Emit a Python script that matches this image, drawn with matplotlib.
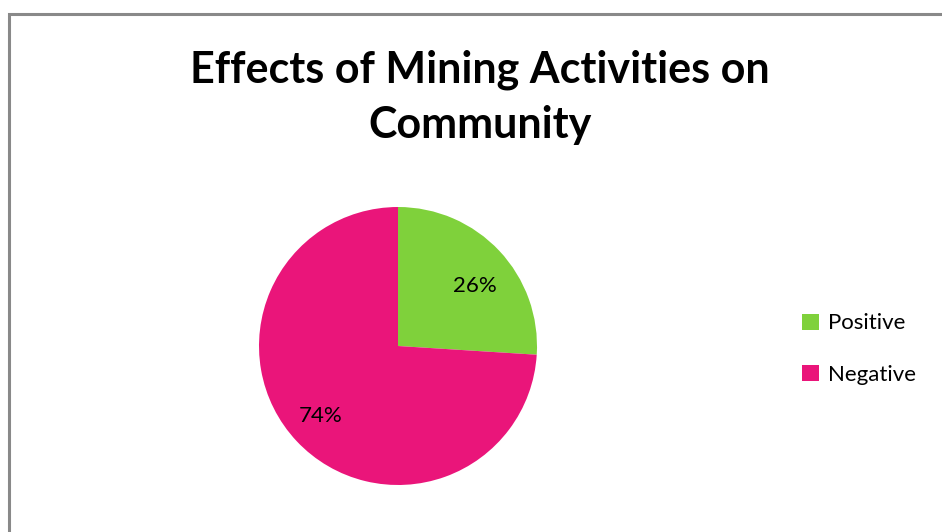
import matplotlib
matplotlib.use("Agg")
import matplotlib.pyplot as plt
from matplotlib.patches import Rectangle

categories = ["Positive", "Negative"]
values = [26, 74]
colors = ["#7fd13b", "#ea157a"]
title = "Effects of Mining Activities on\nCommunity"

plt.rcParams["font.family"] = ["Lato", "DejaVu Sans"]

W, H = 942, 532
fig = plt.figure(figsize=(W / 100, H / 100), dpi=100)

# chart border (runs off the right and bottom edge)
fig.patches.append(Rectangle((8.5 / W, -0.1), 1.2, (H - 13.5) / H + 0.1,
                             transform=fig.transFigure, fill=False,
                             edgecolor="#898989", linewidth=2.2))

# pie area
cx, cy, r = 398, 346, 139
ax = fig.add_axes([(cx - r) / W, (H - cy - r) / H, 2 * r / W, 2 * r / H])
wedges, texts, autotexts = ax.pie(values, colors=colors, startangle=90,
                                  counterclock=False, autopct="%d%%",
                                  textprops={"fontsize": 16, "color": "black"})
# excel-like label spots
autotexts[0].set_position((0.55, 0.43))
autotexts[1].set_position((-0.56, -0.50))
ax.set_xlim(-1, 1)
ax.set_ylim(-1, 1)
ax.axis("off")

fig.text(480 / W, 1 - 97 / H, title, ha="center", va="center",
         fontsize=31, fontweight="bold", linespacing=1.45)

fig.legend(wedges, categories, loc="center left",
           bbox_to_anchor=(782 / W, 1 - 349 / H), frameon=False,
           fontsize=16, handlelength=0.75, handleheight=0.75,
           handletextpad=0.4, labelspacing=1.4)

fig.savefig("out.png", dpi=100)
